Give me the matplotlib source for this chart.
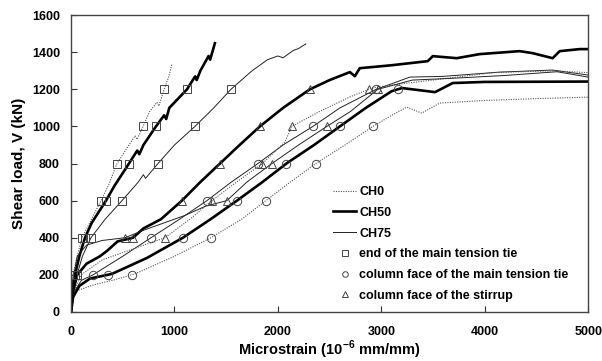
# shear load vs microstrain, CH0 / CH50 / CH75 specimens
import matplotlib
matplotlib.use("Agg")
import matplotlib.pyplot as plt
from matplotlib.lines import Line2D
import numpy as np

plt.rcParams['font.family'] = ['Liberation Sans', 'DejaVu Sans']
plt.rcParams['font.weight'] = 'bold'
plt.rcParams['mathtext.fontset'] = 'custom'
plt.rcParams['mathtext.bf'] = 'Liberation Sans:bold'
plt.rcParams['mathtext.rm'] = 'Liberation Sans:bold'

# --- data (strain in 1e-6 mm/mm, load in kN) ---
# end of the main tension tie (squares)
ch0_end_x = [0, 5, 12, 20, 50, 106, 180, 290, 360, 445, 560, 620, 640, 696, 760, 830, 850, 900, 940, 960, 976]
ch0_end_y = [0, 60, 120, 200, 280, 400, 480, 600, 680, 800, 900, 950, 930, 1000, 1080, 1130, 1110, 1200, 1260, 1300, 1340]
ch50_end_x = [0, 5, 15, 39, 80, 135, 200, 338, 420, 560, 640, 660, 700, 821, 900, 920, 950, 1121, 1200, 1215, 1250, 1330, 1345, 1391]
ch50_end_y = [0, 80, 150, 200, 300, 400, 480, 600, 680, 800, 870, 850, 900, 1000, 1060, 1040, 1100, 1200, 1270, 1250, 1300, 1380, 1360, 1449]
ch75_end_x = [0, 10, 30, 58, 110, 193, 330, 493, 650, 700, 720, 841, 1000, 1198, 1380, 1546, 1750, 1900, 2000, 2050, 2150, 2200, 2270]
ch75_end_y = [0, 80, 150, 200, 300, 400, 500, 600, 700, 740, 720, 800, 900, 1000, 1100, 1200, 1300, 1360, 1380, 1370, 1410, 1420, 1445]

# column face of the main tension tie (circles)
ch0_col_x = [0, 20, 60, 213, 400, 618, 1000, 1353, 1650, 1884, 2120, 2367, 2650, 2918, 3100, 3246,
             3391, 3565, 4000, 4500, 5000]
ch0_col_y = [0, 90, 115, 145, 170, 205, 300, 400, 500, 600, 700, 800, 900, 1000, 1060, 1104,
             1072, 1126, 1140, 1150, 1158]
ch50_col_x = [0, 20, 80, 184, 396, 734, 1082, 1350, 1604, 1850, 2087, 2350, 2599, 2850, 3100, 3200,
              3520, 3690, 4000, 5000]
ch50_col_y = [0, 80, 140, 180, 205, 291, 400, 500, 600, 700, 802, 900, 1000, 1100, 1190, 1207,
              1185, 1234, 1240, 1242]
ch75_col_x = [0, 20, 100, 213, 500, 773, 1050, 1314, 1550, 1807, 2050, 2338, 2600, 2950, 3100,
              3275, 3600, 4145, 4657, 5000]
ch75_col_y = [0, 100, 170, 200, 300, 400, 500, 600, 700, 800, 900, 1000, 1100, 1200, 1230,
              1266, 1270, 1293, 1304, 1277]

# column face of the stirrup (triangles)
ch0_sti_x = [0, 20, 100, 300, 600, 908, 1150, 1362, 1600, 1850, 2068, 2135, 2400, 2700, 2908,
             3200, 3498, 4077, 4657, 5000]
ch0_sti_y = [0, 100, 200, 280, 340, 400, 500, 600, 700, 800, 916, 1000, 1080, 1160, 1207,
             1230, 1250, 1290, 1300, 1290]
ch50_sti_x = [0, 15, 60, 150, 280, 350, 450, 599, 700, 870, 1072, 1250, 1440, 1630, 1826, 2050,
              2309, 2500, 2696, 2744, 2792, 3100, 3449, 3498, 3729, 3952, 4338, 4464, 4657,
              4725, 4918, 5000]
ch50_sti_y = [0, 100, 200, 260, 300, 330, 380, 400, 450, 500, 600, 700, 800, 900, 1000, 1100,
              1200, 1250, 1293, 1271, 1314, 1330, 1352, 1379, 1368, 1390, 1406, 1395, 1368,
              1406, 1417, 1417]
ch75_sti_x = [0, 10, 60, 150, 300, 522, 700, 900, 1100, 1300, 1507, 1700, 1942, 2200, 2473,
              2700, 2966, 3300, 3700, 4200, 4700, 5000]
ch75_sti_y = [0, 150, 300, 360, 385, 400, 440, 480, 520, 570, 600, 700, 800, 900, 1000,
              1080, 1200, 1250, 1260, 1275, 1295, 1266]

marker_levels = [200, 400, 600, 800, 1000, 1200]

x_ticks = [0, 1000, 2000, 3000, 4000, 5000]
y_ticks = [0, 200, 400, 600, 800, 1000, 1200, 1400, 1600]


def level_points(xs, ys, levels):
    # first crossing of each load level along the curve
    px, py = [], []
    for lv in levels:
        for i in range(1, len(ys)):
            if ys[i - 1] < lv <= ys[i]:
                t = (lv - ys[i - 1]) / (ys[i] - ys[i - 1])
                px.append(xs[i - 1] + t * (xs[i] - xs[i - 1]))
                py.append(lv)
                break
    return px, py


fig = plt.figure(figsize=(6.02, 3.61), dpi=100)
ax = fig.add_axes([0.118, 0.136, 0.859, 0.822])

styles = {
    'CH0': dict(color='#555555', lw=0.8, ls=(0, (1, 1.2))),
    'CH50': dict(color='black', lw=1.9, ls='-'),
    'CH75': dict(color='#222222', lw=0.7, ls='-'),
}

curves = [
    (ch0_end_x, ch0_end_y, 'CH0', 's', [200, 400, 600, 800, 1000, 1200]),
    (ch50_end_x, ch50_end_y, 'CH50', 's', [200, 400, 600, 800, 1000, 1200]),
    (ch75_end_x, ch75_end_y, 'CH75', 's', [200, 400, 600, 800, 1000, 1200]),
    (ch0_col_x, ch0_col_y, 'CH0', 'o', [200, 400, 600, 800, 1000]),
    (ch50_col_x, ch50_col_y, 'CH50', 'o', marker_levels),
    (ch75_col_x, ch75_col_y, 'CH75', 'o', marker_levels),
    (ch0_sti_x, ch0_sti_y, 'CH0', '^', [400, 600, 800, 1000, 1200]),
    (ch50_sti_x, ch50_sti_y, 'CH50', '^', [400, 600, 800, 1000, 1200]),
    (ch75_sti_x, ch75_sti_y, 'CH75', '^', [400, 600, 800, 1000, 1200]),
]

for xs, ys, name, mk, levels in curves:
    ax.plot(xs, ys, **styles[name], zorder=2)
for xs, ys, name, mk, levels in curves:
    mx, my = level_points(xs, ys, levels)
    ax.plot(mx, my, ls='none', marker=mk, ms=6, mfc='none', mec='#444444', mew=0.7, zorder=3)

ax.set_xlim(0, 5000)
ax.set_ylim(0, 1600)
ax.set_xticks(x_ticks)
ax.set_yticks(y_ticks)
ax.tick_params(direction='in', length=4, width=0.8, labelsize=9, colors='#333333',
               labelcolor='black')
ax.tick_params(axis='x', pad=10)
ax.tick_params(axis='y', pad=8)
for s in ax.spines.values():
    s.set_color('#444444')
    s.set_linewidth(1.0)
for lab in ax.get_xticklabels() + ax.get_yticklabels():
    lab.set_fontweight('bold')

ax.set_xlabel('Microstrain (10$^{\\mathbf{-6}}$ mm/mm)', fontsize=10.5, fontweight='bold', labelpad=1)
ax.set_ylabel('Shear load, V (kN)', fontsize=11, fontweight='bold', labelpad=4)

handles = [
    Line2D([], [], **styles['CH0']),
    Line2D([], [], **styles['CH50']),
    Line2D([], [], **styles['CH75']),
    Line2D([], [], ls='none', marker='s', ms=4, mfc='none', mec='#444444', mew=0.7),
    Line2D([], [], ls='none', marker='o', ms=4, mfc='none', mec='#444444', mew=0.7),
    Line2D([], [], ls='none', marker='^', ms=4, mfc='none', mec='#444444', mew=0.7),
]
labels = ['CH0', 'CH50', 'CH75', 'end of the main tension tie',
          'column face of the main tension tie', 'column face of the stirrup']
leg = ax.legend(handles, labels, loc='lower left', bbox_to_anchor=(0.507, 0.034), frameon=False,
                fontsize=9, handlelength=1.85, handletextpad=0.25, labelspacing=0.70,
                borderaxespad=0, borderpad=0)
for t in leg.get_texts():
    t.set_fontweight('bold')

fig.savefig('out.png', dpi=100)
